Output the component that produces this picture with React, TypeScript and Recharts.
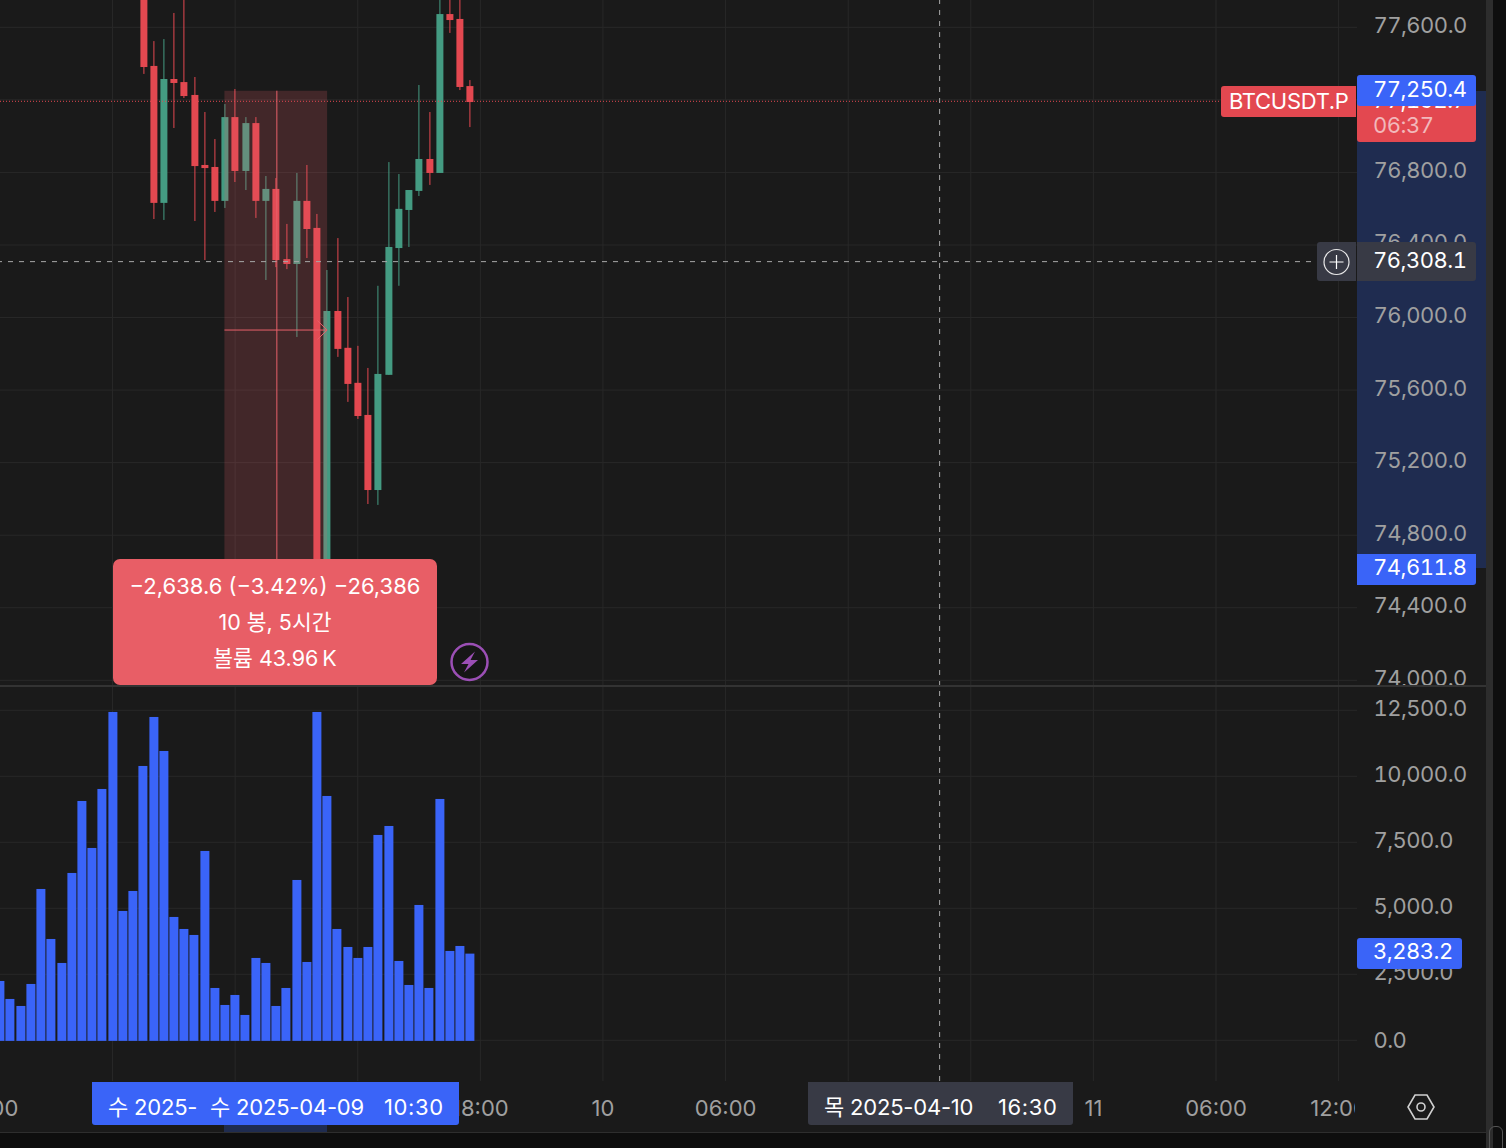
import { Bar, BarChart, CartesianGrid, ReferenceArea, ReferenceLine, XAxis, YAxis } from "recharts";

const FONT = "Inter, 'Noto Sans CJK KR', sans-serif";
const RED = "#e34850";
const GREEN = "#449b82";
const BLUE = "#3a64f8";
const GRID = "#282828";
const CURSOR = "#a8a8a8";
const MEASURE = "#e8606a";

// index of the first candle that shows on screen
const candleStart = 14;
const opens = [77916, 77387, 76632, 77315, 77298, 77227, 76841, 76830, 76643, 77105, 76808, 77072, 76643, 76709, 76322, 76295, 76643, 76494, 74640, 76036, 75833, 75640, 75463, 75049, 75684, 76383, 76593, 76698, 76874, 76797, 77673, 77646, 77276];
const closes = [77381, 76632, 77315, 77293, 77221, 76835, 76824, 76643, 77105, 76808, 77072, 76643, 76709, 76317, 76295, 76643, 76488, 74640, 76036, 75827, 75634, 75457, 75049, 75689, 76389, 76599, 76703, 76874, 76797, 77673, 77640, 77271, 77188];
const highs = [78000, 77524, 77535, 77679, 77778, 77326, 77133, 76984, 77177, 77260, 77105, 77105, 76780, 76769, 76516, 76797, 76841, 76571, 76262, 76438, 76113, 75844, 75722, 76175, 76857, 76791, 76703, 77282, 77133, 77778, 77778, 77778, 77309];
const lows = [77343, 76543, 76538, 77045, 77210, 76532, 76317, 76582, 76604, 76747, 76703, 76549, 76207, 76278, 76267, 75893, 76328, 74612, 74612, 75783, 75535, 75441, 74972, 74967, 75684, 76175, 76389, 76670, 76731, 76797, 77569, 77254, 77050];
const volumes = [2247, 1566, 1300, 2134, 5732, 3838, 2929, 6338, 9065, 7285, 9520, 12437, 4899, 5656, 10391, 12247, 10959, 4672, 4217, 3990, 7172, 1982, 1338, 1717, 960, 3119, 2929, 1300, 1982, 6073, 2967, 12437, 9255, 4217, 3535, 3119, 3535, 7778, 8118, 3005, 2096, 5126, 1982, 9141, 3384, 3573, 3283.2];

const priceTicks = [74000, 74400, 74800, 75200, 75600, 76000, 76400, 76800, 77200, 77600];
const volumeTicks = [0, 2500, 5000, 7500, 10000, 12500];
const timeTicks = [-1, 11, 23, 35, 47, 59, 71, 83, 95, 107, 119, 131];
// the ones left empty sit fully under the crosshair labels in the picture
const timeLabels = ["18:00", "", "", "", "18:00", "10", "06:00", "", "", "11", "06:00", "12:00"];

const candles = opens.map((open, i) => ({
  idx: candleStart + i,
  open,
  close: closes[i],
  high: highs[i],
  low: lows[i],
  range: [lows[i], highs[i]]
}));
const volumeData = volumes.map((volume, idx) => ({ idx, volume }));

const measureFrom = 77250.4;
const measureTo = 74611.8;
const measureMid = 75931;
const cursorPrice = 76308.1;
const lastPrice = 77192;
const cursorIdx = 91.95;

const CHART_LEFT = -102.4;
const xDomain: [number, number] = [-10, 132.8];
const priceDomain: [number, number] = [73968.6, 77750.5];
const fmt = (v: number) => v.toLocaleString("en-US", { minimumFractionDigits: 1, maximumFractionDigits: 1 });

function Candle(props: any) {
  const { x, y, width, height, payload } = props;
  const top = Math.min(y, y + height);
  const perUnit = Math.abs(height) / (payload.high - payload.low);
  const color = payload.close >= payload.open ? GREEN : RED;
  const bodyTop = top + (payload.high - Math.max(payload.open, payload.close)) * perUnit;
  const bodyH = Math.max(Math.abs(payload.open - payload.close) * perUnit, 2);
  // keep wicks on whole screen pixels
  const wick = Math.round(x + width / 2 + CHART_LEFT - 0.7) - CHART_LEFT;
  return (
    <g>
      <rect x={wick} y={top} width={1} height={Math.abs(height)} fill={color} />
      <rect x={wick - 3} y={bodyTop} width={7} height={bodyH} fill={color} />
    </g>
  );
}

function VolumeBar(props: any) {
  const { x, y, width, height } = props;
  const left = Math.round(x + CHART_LEFT - 0.4) - CHART_LEFT;
  const right = Math.round(x + width + CHART_LEFT - 0.4) - CHART_LEFT;
  return <rect x={left} y={y} width={right - left} height={height + 0.6} fill={BLUE} />;
}

function ValueTick(props: any) {
  const { x, y, payload } = props;
  // 77,200.0 is completely hidden by the price labels
  if (payload.value === 77200) return null;
  return (
    <text
      x={x + 0.4}
      y={y}
      dy={payload.value === 0 ? 7.5 : 5.5}
      fill="#a0a0a0"
      fontSize={22}
      fontFamily={FONT}
      textAnchor="start"
      letterSpacing={-0.5}
      style={{ fontVariantNumeric: "tabular-nums" }}
    >
      {fmt(payload.value)}
    </text>
  );
}

function TimeTick(props: any) {
  const { x, payload } = props;
  const label = timeLabels[timeTicks.indexOf(payload.value)];
  if (!label) return null;
  return (
    <text x={x} y={1116 - 686} fill="#a0a0a0" fontSize={22} fontFamily={FONT} textAnchor="middle">
      {label}
    </text>
  );
}

function Box({ x, y, w, h, bg, r, children, style }: any) {
  return (
    <div
      style={{
        position: "absolute",
        left: x,
        top: y,
        width: w,
        height: h,
        background: bg,
        borderRadius: r,
        ...style
      }}
    >
      {children}
    </div>
  );
}

function Label({ x, y, color, spacing = -0.5, tabular = true, children }: any) {
  return (
    <span
      style={{
        position: "absolute",
        left: x,
        top: y,
        color,
        fontSize: 22,
        lineHeight: "26px",
        letterSpacing: spacing,
        fontVariantNumeric: tabular ? "tabular-nums" : "normal",
        whiteSpace: "pre",
        fontFamily: FONT
      }}
    >
      {children}
    </span>
  );
}

export default function App() {
  return (
    <div style={{ position: "absolute", left: 0, top: 0, width: 1506, height: 1148, overflow: "hidden", background: "#1a1a1a", fontFamily: FONT }}>
      <Box x={1357} y={91} w={129} h={477} bg="#1f2c50" />
      <Box x={1486} y={0} w={7} h={1148} bg="#2d2d2d" />
      <Box x={1493} y={0} w={13} h={1148} bg="#0e0e0e" />
      <Box x={0} y={1133} w={1486} h={15} bg="#0e0e0e" />
      <Box x={0} y={1132} w={1486} h={1} bg="#2e2e2e" />
      <Box x={224} y={1125} w={103} h={7} bg="#1f2c50" />

      <div style={{ position: "absolute", left: CHART_LEFT, top: 0 }}>
        <BarChart width={1588} height={686} data={candles} margin={{ top: 0, right: 0, bottom: 0, left: 0 }}>
          <CartesianGrid stroke={GRID} syncWithTicks />
          <XAxis hide type="number" dataKey="idx" domain={xDomain} ticks={timeTicks} allowDataOverflow />
          <YAxis
            orientation="right"
            width={129}
            type="number"
            domain={priceDomain}
            ticks={priceTicks}
            interval={0}
            allowDataOverflow
            axisLine={false}
            tickLine={false}
            tickSize={0}
            tickMargin={16}
            tick={<ValueTick />}
          />
          <Bar dataKey="range" barSize={9} shape={<Candle />} isAnimationActive={false} />
        </BarChart>
      </div>

      {/* drawn as a second layer so the measure box tints the candles */}
      <div style={{ position: "absolute", left: CHART_LEFT, top: 0 }}>
        <BarChart width={1588} height={686} data={candles} margin={{ top: 0, right: 129, bottom: 0, left: 0 }}>
          <XAxis hide type="number" dataKey="idx" domain={xDomain} allowDataOverflow />
          <YAxis hide type="number" domain={priceDomain} allowDataOverflow />
          <ReferenceArea x1={21.95} x2={32} y1={measureFrom} y2={measureTo} fill={MEASURE} fillOpacity={0.2} stroke="none" />
          <ReferenceLine segment={[{ x: -10, y: lastPrice }, { x: 119.6, y: lastPrice }]} stroke={RED} strokeDasharray="1 2" />
          <ReferenceLine segment={[{ x: -10, y: cursorPrice }, { x: 129, y: cursorPrice }]} stroke={CURSOR} strokeDasharray="5 6" />
          <ReferenceLine x={cursorIdx} stroke={CURSOR} strokeDasharray="5 6" />
          <ReferenceLine segment={[{ x: 27.08, y: measureFrom }, { x: 27.08, y: measureTo }]} stroke={MEASURE} />
          <ReferenceLine segment={[{ x: 21.95, y: measureMid }, { x: 32, y: measureMid }]} stroke={MEASURE} />
          <ReferenceLine segment={[{ x: 31.05, y: measureMid + 52 }, { x: 32, y: measureMid }]} stroke={MEASURE} />
          <ReferenceLine segment={[{ x: 31.05, y: measureMid - 52 }, { x: 32, y: measureMid }]} stroke={MEASURE} />
        </BarChart>
      </div>

      <div style={{ position: "absolute", left: CHART_LEFT, top: 686 }}>
        <BarChart width={1588} height={447} data={volumeData} margin={{ top: 0, right: 0, bottom: 0, left: 0 }}>
          <CartesianGrid stroke={GRID} syncWithTicks />
          <XAxis
            type="number"
            dataKey="idx"
            domain={xDomain}
            ticks={timeTicks}
            interval={0}
            allowDataOverflow
            height={52}
            axisLine={false}
            tickLine={false}
            tick={<TimeTick />}
          />
          <YAxis
            orientation="right"
            width={129}
            type="number"
            domain={[-1542, 13420]}
            ticks={volumeTicks}
            interval={0}
            allowDataOverflow
            axisLine={false}
            tickLine={false}
            tickSize={0}
            tickMargin={16}
            tick={<ValueTick />}
          />
          <Bar dataKey="volume" barSize={9} shape={<VolumeBar />} isAnimationActive={false} />
          <ReferenceLine x={cursorIdx} stroke={CURSOR} strokeDasharray="5 6" />
        </BarChart>
      </div>

      <Box x={0} y={685} w={1486} h={2} bg="#333333" />
      <Box x={1355} y={1082} w={131} h={50} bg="#1a1a1a" />

      <Box x={113} y={559} w={324} h={126} bg="#e85e66" r={7} />
      <div style={{ position: "absolute", left: 113, top: 568, width: 324, textAlign: "center", color: "#fff", fontSize: 22, lineHeight: "36px", fontFamily: FONT }}>
        <div>−2,638.6 (−3.42%) −26,386</div>
        <div style={{ fontSize: 21.5 }}>10 봉, 5시간</div>
        <div style={{ fontSize: 21.5 }}>볼륨 43.96{"\u2009"}K</div>
      </div>

      <svg style={{ position: "absolute", left: 448, top: 641 }} width={44} height={44}>
        <circle cx={21.5} cy={21} r={18} fill="#161616" stroke="#9b4fb5" strokeWidth={2.5} />
        <path d="M27 10.5 L13 23 L20.5 23 L16 31.5 L30 19 L22.5 19 Z" fill="#9b4fb5" />
      </svg>

      <Box x={1221} y={86} w={135} h={31} bg="#e34850" r="3px 0 0 3px" />
      <Label x={1229} y={88} color="#fff" spacing={-0.3} tabular={false}>BTCUSDT.P</Label>
      <Box x={1357} y={92} w={119} h={50} bg="#e34850" r="0 0 3px 3px" />
      <Label x={1373} y={87} color="#fff">77,192.7</Label>
      <Label x={1373} y={112} color="#f2b8bb">06:37</Label>
      <Box x={1357} y={75} w={119} h={31} bg={BLUE} r={3} />
      <Label x={1373} y={76} color="#fff">77,250.4</Label>

      <Box x={1317} y={242} w={39} h={39} bg="#383a45" r="3px 0 0 3px" />
      <svg style={{ position: "absolute", left: 1317, top: 242 }} width={39} height={39}>
        <circle cx={19.5} cy={20} r={12.5} fill="none" stroke="#e8e8e8" strokeWidth={1.2} />
        <path d="M19.5 13 V27 M12.5 20 H26.5" stroke="#fff" strokeWidth={1.2} />
      </svg>
      <Box x={1357} y={242} w={119} h={39} bg="#383a45" r="0 3px 3px 0" />
      <Label x={1373} y={247} color="#fff">76,308.1</Label>

      <Box x={1357} y={554} w={119} h={31} bg={BLUE} r="0 0 3px 0" />
      <Label x={1373} y={554} color="#fff">74,611.8</Label>

      <Box x={1357} y={938} w={105} h={31} bg={BLUE} r={3} />
      <Label x={1373} y={938} color="#fff">3,283.2</Label>

      <Box x={92} y={1082} w={367} h={43} bg={BLUE} r="0 0 3px 3px" />
      <Label x={108} y={1094} color="#fff" spacing={-0.2} tabular={false}>수 2025-</Label>
      <Label x={210} y={1094} color="#fff" spacing={-0.2} tabular={false}>수 2025-04-09</Label>
      <Label x={384} y={1094} color="#fff" spacing={0.6} tabular={false}>10:30</Label>
      <Box x={808} y={1082} w={265} h={43} bg="#383a45" r="0 0 3px 3px" />
      <Label x={824} y={1094} color="#fff" spacing={-0.2} tabular={false}>목 2025-04-10</Label>
      <Label x={998} y={1094} color="#fff" spacing={0.6} tabular={false}>16:30</Label>

      <svg style={{ position: "absolute", left: 1406, top: 1092 }} width={30} height={30}>
        <path d="M9 3 H21 L28 15 L21 27 H9 L2 15 Z" fill="none" stroke="#d0d0d0" strokeWidth={1.6} />
        <circle cx={15} cy={15} r={4} fill="none" stroke="#d0d0d0" strokeWidth={1.6} />
      </svg>

      <div style={{ position: "absolute", left: 1489, top: 1126, width: 14, height: 30, border: "1px solid #555", borderRadius: 6, boxSizing: "border-box" }} />
    </div>
  );
}
